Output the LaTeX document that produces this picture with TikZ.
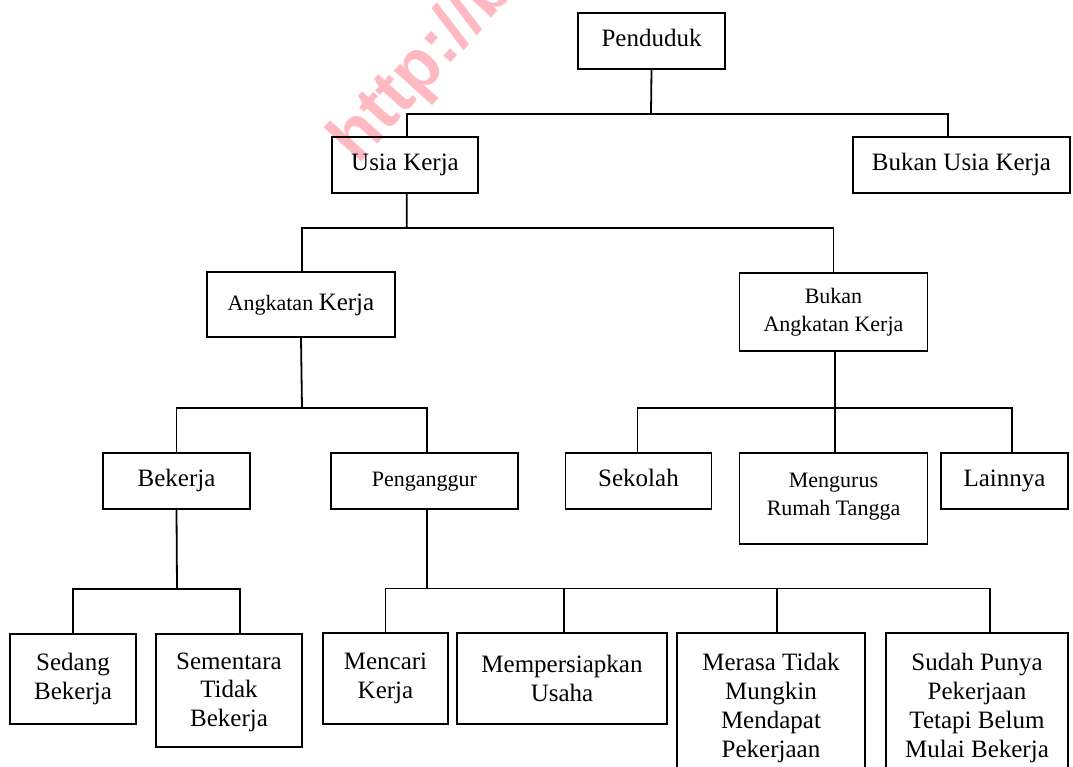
\documentclass[tikz,border=0pt]{standalone}
\usepackage{fontspec}
\setmainfont{Liberation Serif}
\newfontfamily\wmfont{Liberation Sans}
\definecolor{wmpink}{RGB}{255,185,195}
\tikzset{
  box/.style={draw, line width=0.9pt, inner sep=0pt, align=center,
    font=\fontsize{12.5}{14.4}\selectfont},
  smallbox/.style={box, font=\fontsize{11}{14.2}\selectfont},
  conn/.style={line width=0.9pt},
}
\newcommand{\bigK}[1]{{\fontsize{12.5}{14.4}\selectfont #1}}
\begin{document}
\begin{tikzpicture}[x=0.5pt, y=-0.5pt]
\useasboundingbox (0,0) rectangle (1073,767);
% watermark
\node[anchor=base west, rotate=48, text=wmpink, font=\wmfont\bfseries\fontsize{35}{35}\selectfont, inner sep=0pt] (wm) at (358,166) {http://bo};
% boxes
\node[box, minimum width=73.5pt, minimum height=28pt] (pend) at (651.5,41) {\strut Penduduk};
\node[box, minimum width=73pt, minimum height=28pt] (usia) at (405,165) {\strut Usia Kerja};
\node[box, minimum width=108.5pt, minimum height=28pt] (busia) at (961.5,165) {\strut Bukan Usia Kerja};
\node[smallbox, minimum width=94pt, minimum height=32.5pt] (ak) at (301,304.5) {Angkatan \bigK{Kerja}\strut};
\node[smallbox, minimum width=94pt, minimum height=39pt] (bak) at (833.5,312) {Bukan\\Angkatan Kerja};
\node[box, minimum width=73.5pt, minimum height=28pt] (bek) at (176.5,481) {\strut Bekerja};
\node[smallbox, minimum width=93.5pt, minimum height=28pt] (peng) at (424.5,481) {\strut Penganggur};
\node[box, minimum width=73pt, minimum height=28pt] (sek) at (638.5,481) {\strut Sekolah};
\node[smallbox, minimum width=94pt, minimum height=45.5pt] (meng) at (833.5,498.5) {Mengurus\\Rumah Tangga\\[-10pt]~};
\node[box, minimum width=63.5pt, minimum height=28pt] (lain) at (1004.5,481) {\strut Lainnya};
\node[box, minimum width=63pt, minimum height=45pt] (sed) at (73,679) {Sedang\\Bekerja};
\node[box, minimum width=73pt, minimum height=56.5pt] (sem) at (229,690.5) {\rule{0pt}{10pt}Sementara\\Tidak\\Bekerja};
\node[box, minimum width=62.5pt, minimum height=45.5pt] (menc) at (385.5,678.5) {Mencari\\Kerja};
\node[box, minimum width=105pt, minimum height=45.5pt] (memp) at (562,678.5) {Mempersiapkan\\Usaha};
\node[box, minimum width=94pt, minimum height=75pt] (mer) at (771,708) {Merasa Tidak\\Mungkin\\Mendapat\\Pekerjaan};
\node[box, minimum width=91pt, minimum height=75pt] (sud) at (977,708) {Sudah Punya\\Pekerjaan\\Tetapi Belum\\Mulai Bekerja};
% connectors
\coordinate (j1) at (651,114.3);
\draw[conn] (pend.south) -- (j1);
\draw[conn] ([xshift=0.85pt]usia.north) |- (j1) -| ([xshift=-6.75pt]busia.north);
\coordinate (j2) at (406.7,227.7);
\draw[conn] ([xshift=0.85pt]usia.south) -- (j2);
\draw[conn] ([xshift=0.5pt]ak.north) |- (j2) -| (bak.north);
\coordinate (j3) at (302,408);
\draw[conn] (ak.south) -- (j3);
\draw[conn] (bek.north) |- (j3) -| ([xshift=1.25pt]peng.north);
\coordinate (j4) at (835,408);
\draw[conn] ([xshift=0.75pt]bak.south) -- (j4);
\draw[conn] ([xshift=-0.5pt]sek.north) |- (j4) -| ([xshift=3.75pt]lain.north);
\draw[conn] (j4) -- ([xshift=0.75pt]meng.north);
\coordinate (j5) at (177,589);
\draw[conn] (bek.south) -- (j5);
\draw[conn] (sed.north) |- (j5) -| ([xshift=5.3pt]sem.north);
\coordinate (j6) at (427,588.5);
\draw[conn] ([xshift=1.25pt]peng.south) -- (j6);
\draw[conn] (menc.north) |- (j6) -| ([xshift=6.5pt]sud.north);
\draw[conn] ([xshift=1.15pt]memp.north) -- ([xshift=1.15pt]memp.north |- j6);
\draw[conn] ([xshift=2.85pt]mer.north) -- ([xshift=2.85pt]mer.north |- j6);
\end{tikzpicture}
\end{document}
